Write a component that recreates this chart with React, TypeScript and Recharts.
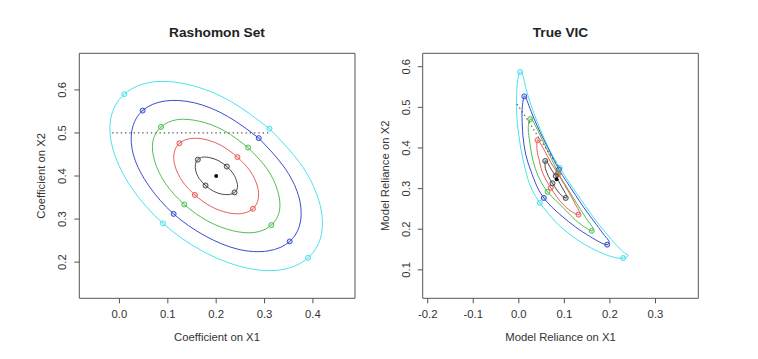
import { ComposedChart, Line, ReferenceArea, Scatter, XAxis, YAxis } from "recharts";

type Pt = { x: number; y: number };

const FONT = '"Liberation Sans", Arial, Helvetica, sans-serif';

// ---- Rashomon set (left): contours around the fit at (0.2, 0.4) ----
const rsCyan: Pt[] = [
  { x: 0.31, y: 0.51 }, { x: 0.374, y: 0.429 }, { x: 0.412, y: 0.344 }, { x: 0.418, y: 0.267 },
  { x: 0.39, y: 0.21 }, { x: 0.333, y: 0.182 }, { x: 0.257, y: 0.188 }, { x: 0.171, y: 0.226 },
  { x: 0.09, y: 0.29 }, { x: 0.026, y: 0.371 }, { x: -0.012, y: 0.457 }, { x: -0.018, y: 0.533 },
  { x: 0.01, y: 0.59 }, { x: 0.067, y: 0.618 }, { x: 0.144, y: 0.612 }, { x: 0.229, y: 0.574 },
  { x: 0.31, y: 0.51 },
];
const rsBlue: Pt[] = [
  { x: 0.288, y: 0.488 }, { x: 0.339, y: 0.423 }, { x: 0.37, y: 0.355 }, { x: 0.374, y: 0.293 },
  { x: 0.352, y: 0.248 }, { x: 0.307, y: 0.226 }, { x: 0.245, y: 0.23 }, { x: 0.177, y: 0.261 },
  { x: 0.112, y: 0.312 }, { x: 0.061, y: 0.377 }, { x: 0.03, y: 0.445 }, { x: 0.026, y: 0.507 },
  { x: 0.048, y: 0.552 }, { x: 0.093, y: 0.574 }, { x: 0.155, y: 0.57 }, { x: 0.223, y: 0.539 },
  { x: 0.288, y: 0.488 },
];
const rsGreen: Pt[] = [
  { x: 0.266, y: 0.466 }, { x: 0.305, y: 0.417 }, { x: 0.327, y: 0.366 }, { x: 0.331, y: 0.32 },
  { x: 0.314, y: 0.286 }, { x: 0.28, y: 0.269 }, { x: 0.234, y: 0.273 }, { x: 0.183, y: 0.295 },
  { x: 0.134, y: 0.334 }, { x: 0.095, y: 0.383 }, { x: 0.073, y: 0.434 }, { x: 0.069, y: 0.48 },
  { x: 0.086, y: 0.514 }, { x: 0.12, y: 0.531 }, { x: 0.166, y: 0.527 }, { x: 0.217, y: 0.505 },
  { x: 0.266, y: 0.466 },
];
const rsRed: Pt[] = [
  { x: 0.244, y: 0.444 }, { x: 0.27, y: 0.412 }, { x: 0.285, y: 0.377 }, { x: 0.287, y: 0.347 },
  { x: 0.276, y: 0.324 }, { x: 0.253, y: 0.313 }, { x: 0.223, y: 0.315 }, { x: 0.188, y: 0.33 },
  { x: 0.156, y: 0.356 }, { x: 0.13, y: 0.388 }, { x: 0.115, y: 0.423 }, { x: 0.113, y: 0.453 },
  { x: 0.124, y: 0.476 }, { x: 0.147, y: 0.487 }, { x: 0.177, y: 0.485 }, { x: 0.212, y: 0.47 },
  { x: 0.244, y: 0.444 },
];
const rsBlack: Pt[] = [
  { x: 0.222, y: 0.422 }, { x: 0.235, y: 0.406 }, { x: 0.242, y: 0.389 }, { x: 0.244, y: 0.373 },
  { x: 0.238, y: 0.362 }, { x: 0.227, y: 0.357 }, { x: 0.211, y: 0.358 }, { x: 0.194, y: 0.365 },
  { x: 0.178, y: 0.378 }, { x: 0.165, y: 0.394 }, { x: 0.158, y: 0.411 }, { x: 0.157, y: 0.427 },
  { x: 0.162, y: 0.438 }, { x: 0.173, y: 0.444 }, { x: 0.189, y: 0.442 }, { x: 0.206, y: 0.435 },
  { x: 0.222, y: 0.422 },
];
const rsMarkCyan: Pt[] = [{ x: 0.31, y: 0.51 }, { x: 0.39, y: 0.21 }, { x: 0.09, y: 0.29 }, { x: 0.01, y: 0.59 }];
const rsMarkBlue: Pt[] = [{ x: 0.288, y: 0.488 }, { x: 0.352, y: 0.248 }, { x: 0.112, y: 0.312 }, { x: 0.048, y: 0.552 }];
const rsMarkGreen: Pt[] = [{ x: 0.266, y: 0.466 }, { x: 0.314, y: 0.286 }, { x: 0.134, y: 0.334 }, { x: 0.086, y: 0.514 }];
const rsMarkRed: Pt[] = [{ x: 0.244, y: 0.444 }, { x: 0.276, y: 0.324 }, { x: 0.156, y: 0.356 }, { x: 0.124, y: 0.476 }];
const rsMarkBlack: Pt[] = [{ x: 0.222, y: 0.422 }, { x: 0.238, y: 0.362 }, { x: 0.178, y: 0.378 }, { x: 0.162, y: 0.438 }];
const rsCenter: Pt[] = [{ x: 0.2, y: 0.4 }];
const rsDotted: Pt[] = [{ x: -0.015, y: 0.5 }, { x: 0.311, y: 0.5 }];

// ---- True VIC (right): the same contours in model-reliance space ----
const vicCyan: Pt[] = [
  { x: 0.004, y: 0.4 }, { x: -0.003, y: 0.46 }, { x: -0.005, y: 0.51 }, { x: -0.004, y: 0.55 },
  { x: -0.001, y: 0.575 }, { x: 0.003, y: 0.587 }, { x: 0.009, y: 0.578 }, { x: 0.016, y: 0.545 },
  { x: 0.027, y: 0.505 }, { x: 0.04, y: 0.465 }, { x: 0.055, y: 0.425 }, { x: 0.072, y: 0.385 },
  { x: 0.09, y: 0.351 }, { x: 0.11, y: 0.316 }, { x: 0.135, y: 0.275 }, { x: 0.162, y: 0.232 },
  { x: 0.19, y: 0.192 }, { x: 0.215, y: 0.16 }, { x: 0.232, y: 0.142 }, { x: 0.24, y: 0.135 },
  { x: 0.229, y: 0.129 }, { x: 0.205, y: 0.132 }, { x: 0.175, y: 0.145 }, { x: 0.145, y: 0.162 },
  { x: 0.115, y: 0.185 }, { x: 0.085, y: 0.213 }, { x: 0.062, y: 0.242 }, { x: 0.046, y: 0.265 },
  { x: 0.03, y: 0.295 }, { x: 0.017, y: 0.335 }, { x: 0.004, y: 0.4 },
];
const vicBlue: Pt[] = [
  { x: 0.009, y: 0.43 }, { x: 0.007, y: 0.475 }, { x: 0.008, y: 0.505 }, { x: 0.012, y: 0.527 },
  { x: 0.018, y: 0.517 }, { x: 0.027, y: 0.49 }, { x: 0.04, y: 0.455 }, { x: 0.055, y: 0.42 },
  { x: 0.072, y: 0.382 }, { x: 0.088, y: 0.347 }, { x: 0.105, y: 0.317 }, { x: 0.125, y: 0.283 },
  { x: 0.148, y: 0.245 }, { x: 0.17, y: 0.212 }, { x: 0.188, y: 0.185 }, { x: 0.198, y: 0.17 },
  { x: 0.194, y: 0.162 }, { x: 0.178, y: 0.168 }, { x: 0.155, y: 0.183 }, { x: 0.125, y: 0.205 },
  { x: 0.095, y: 0.232 }, { x: 0.072, y: 0.255 }, { x: 0.055, y: 0.277 }, { x: 0.04, y: 0.305 },
  { x: 0.026, y: 0.345 }, { x: 0.015, y: 0.385 }, { x: 0.009, y: 0.43 },
];
const vicGreen: Pt[] = [
  { x: 0.028, y: 0.385 }, { x: 0.022, y: 0.43 }, { x: 0.021, y: 0.455 }, { x: 0.025, y: 0.471 },
  { x: 0.033, y: 0.462 }, { x: 0.045, y: 0.435 }, { x: 0.058, y: 0.405 }, { x: 0.072, y: 0.372 },
  { x: 0.086, y: 0.34 }, { x: 0.1, y: 0.313 }, { x: 0.118, y: 0.28 }, { x: 0.136, y: 0.248 },
  { x: 0.152, y: 0.22 }, { x: 0.163, y: 0.203 }, { x: 0.16, y: 0.196 }, { x: 0.145, y: 0.205 },
  { x: 0.125, y: 0.222 }, { x: 0.1, y: 0.25 }, { x: 0.08, y: 0.272 }, { x: 0.063, y: 0.292 },
  { x: 0.048, y: 0.318 }, { x: 0.036, y: 0.35 }, { x: 0.028, y: 0.385 },
];
const vicRed: Pt[] = [
  { x: 0.045, y: 0.37 }, { x: 0.04, y: 0.395 }, { x: 0.041, y: 0.419 }, { x: 0.048, y: 0.41 },
  { x: 0.058, y: 0.39 }, { x: 0.07, y: 0.365 }, { x: 0.086, y: 0.336 }, { x: 0.1, y: 0.31 },
  { x: 0.113, y: 0.285 }, { x: 0.125, y: 0.26 }, { x: 0.133, y: 0.243 }, { x: 0.131, y: 0.236 },
  { x: 0.118, y: 0.242 }, { x: 0.1, y: 0.258 }, { x: 0.083, y: 0.28 }, { x: 0.07, y: 0.302 },
  { x: 0.057, y: 0.327 }, { x: 0.049, y: 0.35 }, { x: 0.045, y: 0.37 },
];
const vicBlack: Pt[] = [
  { x: 0.058, y: 0.35 }, { x: 0.058, y: 0.368 }, { x: 0.064, y: 0.362 }, { x: 0.072, y: 0.346 },
  { x: 0.081, y: 0.331 }, { x: 0.09, y: 0.313 }, { x: 0.099, y: 0.295 }, { x: 0.105, y: 0.282 },
  { x: 0.103, y: 0.277 }, { x: 0.094, y: 0.283 }, { x: 0.084, y: 0.296 }, { x: 0.074, y: 0.313 },
  { x: 0.065, y: 0.33 }, { x: 0.058, y: 0.35 },
];
const vicMarkCyan: Pt[] = [{ x: 0.09, y: 0.351 }, { x: 0.229, y: 0.129 }, { x: 0.046, y: 0.265 }, { x: 0.003, y: 0.587 }];
const vicMarkBlue: Pt[] = [{ x: 0.088, y: 0.347 }, { x: 0.194, y: 0.162 }, { x: 0.055, y: 0.277 }, { x: 0.012, y: 0.527 }];
const vicMarkGreen: Pt[] = [{ x: 0.086, y: 0.34 }, { x: 0.16, y: 0.196 }, { x: 0.063, y: 0.292 }, { x: 0.025, y: 0.471 }];
const vicMarkRed: Pt[] = [{ x: 0.086, y: 0.336 }, { x: 0.131, y: 0.236 }, { x: 0.07, y: 0.302 }, { x: 0.041, y: 0.419 }];
const vicMarkBlack: Pt[] = [{ x: 0.081, y: 0.331 }, { x: 0.103, y: 0.277 }, { x: 0.074, y: 0.313 }, { x: 0.058, y: 0.368 }];
const vicCenter: Pt[] = [{ x: 0.083, y: 0.323 }];
const vicDotted: Pt[] = [
  { x: -0.004, y: 0.508 }, { x: 0.02, y: 0.468 }, { x: 0.043, y: 0.427 }, { x: 0.066, y: 0.388 }, { x: 0.088, y: 0.352 },
];

const rsXTicks = [0, 0.1, 0.2, 0.3, 0.4];
const rsYTicks = [0.2, 0.3, 0.4, 0.5, 0.6];
const vicXTicks = [-0.2, -0.1, 0, 0.1, 0.2, 0.3];
const vicYTicks = [0.1, 0.2, 0.3, 0.4, 0.5, 0.6];

const COLORS = {
  cyan: "#48e2ee",
  blue: "#3a4bcf",
  green: "#4fbf4f",
  red: "#ea5c5c",
  black: "#4a4a4a",
};

type Series = { key: string; color: string; curve: Pt[]; marks: Pt[] };

const rsSeries: Series[] = [
  { key: "cyan", color: COLORS.cyan, curve: rsCyan, marks: rsMarkCyan },
  { key: "blue", color: COLORS.blue, curve: rsBlue, marks: rsMarkBlue },
  { key: "green", color: COLORS.green, curve: rsGreen, marks: rsMarkGreen },
  { key: "red", color: COLORS.red, curve: rsRed, marks: rsMarkRed },
  { key: "black", color: COLORS.black, curve: rsBlack, marks: rsMarkBlack },
];
const vicSeries: Series[] = [
  { key: "cyan", color: COLORS.cyan, curve: vicCyan, marks: vicMarkCyan },
  { key: "blue", color: COLORS.blue, curve: vicBlue, marks: vicMarkBlue },
  { key: "green", color: COLORS.green, curve: vicGreen, marks: vicMarkGreen },
  { key: "red", color: COLORS.red, curve: vicRed, marks: vicMarkRed },
  { key: "black", color: COLORS.black, curve: vicBlack, marks: vicMarkBlack },
];

const fmt = (v: number) => v.toFixed(1);

function XTick({ x, y, payload }: any) {
  return (
    <text x={x} y={y + 15} textAnchor="middle" fontSize={11.3} fill="#333" fontFamily={FONT}>
      {fmt(payload.value)}
    </text>
  );
}

function YTick({ x, y, payload }: any) {
  const cx = x - 12;
  return (
    <text
      x={cx}
      y={y}
      dy="0.36em"
      transform={`rotate(-90 ${cx} ${y})`}
      textAnchor="middle"
      fontSize={11.3}
      fill="#333"
      fontFamily={FONT}
    >
      {fmt(payload.value)}
    </text>
  );
}

function OpenMark(props: any) {
  const { cx, cy, fill } = props;
  return <circle cx={cx} cy={cy} r={2.5} fill={fill} fillOpacity={0.2} stroke={fill} strokeWidth={1} />;
}

function Dot(props: any) {
  return <circle cx={props.cx} cy={props.cy} r={1.9} fill="#000" />;
}

type PanelProps = {
  left: number;
  series: Series[];
  center: Pt[];
  dotted: Pt[];
  xDomain: [number, number];
  yDomain: [number, number];
  xTicks: number[];
  yTicks: number[];
  margin: { top: number; right: number; bottom: number; left: number };
};

function Panel({ left, series, center, dotted, xDomain, yDomain, xTicks, yTicks, margin }: PanelProps) {
  return (
    <div style={{ position: "absolute", left, top: 0, width: 379, height: 359 }}>
      <ComposedChart width={379} height={359} margin={margin}>
        <XAxis
          type="number"
          dataKey="x"
          domain={xDomain}
          allowDataOverflow
          ticks={xTicks}
          interval={0}
          axisLine={false}
          tickLine={{ stroke: "#555" }}
          tickSize={5}
          tickMargin={0}
          height={30}
          tick={<XTick />}
        />
        <YAxis
          type="number"
          dataKey="y"
          domain={yDomain}
          allowDataOverflow
          ticks={yTicks}
          interval={0}
          axisLine={false}
          tickLine={{ stroke: "#555" }}
          tickSize={5}
          tickMargin={0}
          width={40}
          tick={<YTick />}
        />
        <ReferenceArea
          x1={xDomain[0]}
          x2={xDomain[1]}
          y1={yDomain[0]}
          y2={yDomain[1]}
          fill="none"
          stroke="#555"
          strokeWidth={1}
          ifOverflow="visible"
        />
        {series.map((s) => (
          <Line
            key={`c-${s.key}`}
            data={s.curve}
            dataKey="y"
            type="natural"
            stroke={s.color}
            strokeWidth={1}
            dot={false}
            activeDot={false}
            isAnimationActive={false}
          />
        ))}
        <Line
          data={dotted}
          dataKey="y"
          type="linear"
          stroke="#555"
          strokeWidth={1.2}
          strokeDasharray="1.3 3"
          dot={false}
          activeDot={false}
          isAnimationActive={false}
        />
        {series.map((s) => (
          <Scatter
            key={`m-${s.key}`}
            data={s.marks}
            fill={s.color}
            shape={<OpenMark />}
            isAnimationActive={false}
          />
        ))}
        <Scatter data={center} fill="#000" shape={<Dot />} isAnimationActive={false} />
      </ComposedChart>
    </div>
  );
}

export default function App() {
  const textStyle = { fontFamily: FONT, fill: "#333" };
  return (
    <div style={{ position: "absolute", left: 0, top: 0, width: 758, height: 359, background: "#fff", overflow: "hidden" }}>
      <Panel
        left={0}
        series={rsSeries}
        center={rsCenter}
        dotted={rsDotted}
        xDomain={[-0.083, 0.487]}
        yDomain={[0.116, 0.685]}
        xTicks={rsXTicks}
        yTicks={rsYTicks}
        margin={{ top: 53.3, right: 24, bottom: 30.7, left: 39.3 }}
      />
      <Panel
        left={379}
        series={vicSeries}
        center={vicCenter}
        dotted={vicDotted}
        xDomain={[-0.211, 0.394]}
        yDomain={[0.03, 0.633]}
        xTicks={vicXTicks}
        yTicks={vicYTicks}
        margin={{ top: 53.3, right: 59.7, bottom: 30.7, left: 3.7 }}
      />
      <svg width={758} height={359} style={{ position: "absolute", left: 0, top: 0, pointerEvents: "none" }}>
        <text x={217} y={36.8} textAnchor="middle" fontSize={13.7} fontWeight="bold" style={{ ...textStyle, fill: "#222" }}>
          Rashomon Set
        </text>
        <text x={560.5} y={36.8} textAnchor="middle" fontSize={13.7} fontWeight="bold" style={{ ...textStyle, fill: "#222" }}>
          True VIC
        </text>
        <text x={217} y={340.8} textAnchor="middle" fontSize={11.3} style={textStyle}>
          Coefficient on X1
        </text>
        <text x={560.5} y={340.8} textAnchor="middle" fontSize={11.3} style={textStyle}>
          Model Reliance on X1
        </text>
        <text x={41} y={175.8} dy="0.36em" transform="rotate(-90 41 175.8)" textAnchor="middle" fontSize={11.3} style={textStyle}>
          Coefficient on X2
        </text>
        <text x={385} y={175.8} dy="0.36em" transform="rotate(-90 385 175.8)" textAnchor="middle" fontSize={11.3} style={textStyle}>
          Model Reliance on X2
        </text>
      </svg>
    </div>
  );
}
